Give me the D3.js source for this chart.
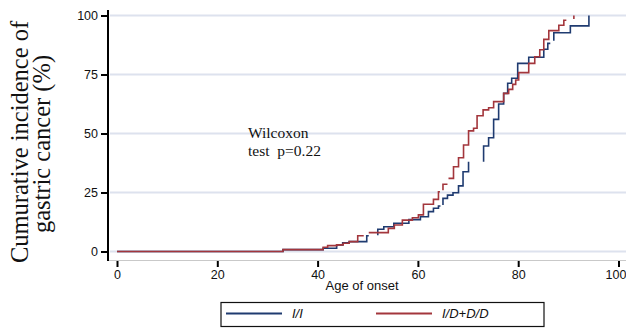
<!DOCTYPE html>
<html lang="en">
<head>
  <meta charset="UTF-8" />
  <title>Cumulative incidence of gastric cancer</title>
  <script src="https://cdn.jsdelivr.net/npm/d3@7"></script>
  <style>
    body { margin: 0; background: #fff; }
    .tick text { font-family: "Liberation Sans", Arial, sans-serif; }
  </style>
</head>
<body>
<script>
  // step points [age, cumulative %]; null = break in the drawn line
  const curveII = [
    [0, 0], [33.1, 0.8], [41.1, 1.4], [43.8, 2.8], [45.0, 3.7], [46.3, 4.2], [49.8, 6.7], [50.2, 6.7], null,
    [52.0, 6.9], [52.0, 9.4], [53.2, 10.5], [55.2, 12.0], [58.2, 13.5], [60.5, 14.7], [62.1, 16.9],
    [63.1, 18.3], [64.1, 19.3], [64.5, 19.3], null,
    [65.0, 19.7], [65.0, 22.5], [65.9, 23.9], [67.0, 24.9], [68.1, 27.8], [69.0, 33.8], [70.1, 38.0], null,
    [73.1, 38.0], [73.1, 44.7], [74.1, 48.2], [75.1, 56.0], [76.1, 62.5], [77.1, 67.0], [77.9, 71.3],
    [78.7, 73.4], [79.9, 79.7], [82.1, 82.3], [85.1, 85.7], [85.9, 88.2], [86.4, 88.2], null,
    [87.1, 89.3], [87.1, 92.7], [90.4, 95.6], [94.1, 100]
  ];
  const curveID = [
    [0, 0], [33.1, 0.8], [41.1, 1.8], [42.0, 2.5], [43.8, 2.8], [45.1, 3.5], [46.3, 4.2], [48.0, 6.7], [49.2, 6.7], null,
    [50.2, 8.0], [54.1, 9.8], [55.3, 11.2], [56.9, 13.3], [58.9, 14.3], [60.1, 15.5], [61.1, 20.0],
    [63.1, 22.1], [64.1, 25.3], [64.4, 25.3], null,
    [65.0, 26.0], [65.0, 28.5], [65.9, 28.5], null,
    [66.1, 31.0], [67.1, 35.9], [68.1, 39.7], [69.1, 45.1], [70.1, 51.1], [71.1, 52.2], [71.8, 57.5],
    [73.0, 60.0], [74.1, 60.9], [75.1, 63.5], [77.1, 67.0], [78.1, 68.7], [78.9, 70.8], [79.5, 72.7],
    [80.1, 75.8], [82.1, 79.7], [83.3, 82.5], [84.3, 85.5], [85.1, 89.9], [86.1, 93.6], [88.1, 95.9],
    [89.1, 98.0], [89.6, 98.0], null,
    [91.1, 98.5], [91.1, 100]
  ];
  const seriesNames = ["I/I", "I/D+D/D"];
  const seriesColors = ["#1f3b70", "#a3363c"];
  const xTicks = [0, 20, 40, 60, 80, 100];
  const yTicks = [0, 25, 50, 75, 100];

  const W = 626, H = 328;
  const svg = d3.select("body").append("svg").attr("width", W).attr("height", H);

  const x = d3.scaleLinear().domain([0, 100]).range([117, 618.5]);
  const y = d3.scaleLinear().domain([0, 100]).range([251.5, 15.5]);

  // grid
  svg.append("g").selectAll("line")
    .data(yTicks)
    .enter().append("line")
    .attr("x1", 110).attr("x2", W)
    .attr("y1", d => y(d)).attr("y2", d => y(d))
    .attr("stroke", "#dde2ee").attr("stroke-width", 2);

  // x baseline
  svg.append("line")
    .attr("x1", 108).attr("x2", W).attr("y1", 260.5).attr("y2", 260.5)
    .attr("stroke", "#c9c9c9").attr("stroke-width", 1);

  // axes
  const yAxis = svg.append("g")
    .attr("transform", "translate(108,0)")
    .call(d3.axisLeft(y).tickValues(yTicks).tickSize(7).tickPadding(3));
  yAxis.select(".domain").attr("d", "M0,10V261").attr("stroke-width", 2);
  yAxis.selectAll(".tick line").attr("stroke-width", 2);
  yAxis.selectAll(".tick text").attr("font-size", 12.5).attr("fill", "#111");

  const xAxis = svg.append("g")
    .attr("transform", "translate(0,261)")
    .call(d3.axisBottom(x).tickValues(xTicks).tickSize(6).tickPadding(3));
  xAxis.select(".domain").remove();
  xAxis.selectAll(".tick line").attr("stroke-width", 2);
  xAxis.selectAll(".tick text").attr("font-size", 12.5).attr("fill", "#111")
    .attr("dx", d => d === 100 ? -3 : 0);

  // curves
  const line = d3.line()
    .defined(d => d !== null)
    .x(d => x(d[0]))
    .y(d => y(d[1]))
    .curve(d3.curveStepAfter);

  [curveII, curveID].forEach((c, i) => {
    svg.append("path")
      .attr("d", line(c))
      .attr("fill", "none")
      .attr("stroke", seriesColors[i])
      .attr("stroke-width", 1.6);
  });

  // annotation
  const ann = svg.append("text")
    .attr("font-family", "'Liberation Serif', 'Times New Roman', serif")
    .attr("font-size", 15.5)
    .attr("fill", "#111");
  ann.append("tspan").attr("x", 248).attr("y", 137.5).text("Wilcoxon");
  ann.append("tspan").attr("x", 248).attr("y", 156).attr("xml:space", "preserve").text("test  p=0.22");

  // y title
  const yt = svg.append("text")
    .attr("transform", "translate(0,142) rotate(-90)")
    .attr("text-anchor", "middle")
    .attr("font-family", "'Liberation Serif', 'Times New Roman', serif")
    .attr("font-size", 24.5)
    .attr("fill", "#111");
  yt.append("tspan").attr("x", 0).attr("y", 28).text("Cumurative incidence of");
  yt.append("tspan").attr("x", -2).attr("y", 50).text("gastric cancer (%)");

  // x title
  svg.append("text")
    .attr("x", 362).attr("y", 289.5)
    .attr("text-anchor", "middle")
    .attr("font-family", "'Liberation Sans', Arial, sans-serif")
    .attr("font-size", 13)
    .attr("fill", "#111")
    .text("Age of onset");

  // legend
  svg.append("rect")
    .attr("x", 221).attr("y", 302.5).attr("width", 323).attr("height", 24)
    .attr("fill", "#fff").attr("stroke", "#111").attr("stroke-width", 1.2);
  const legX = [226, 376];
  seriesNames.forEach((n, i) => {
    svg.append("line")
      .attr("x1", legX[i]).attr("x2", legX[i] + 56)
      .attr("y1", 313.5).attr("y2", 313.5)
      .attr("stroke", seriesColors[i]).attr("stroke-width", 2);
    svg.append("text")
      .attr("x", legX[i] + 66).attr("y", 318)
      .attr("font-family", "'Liberation Sans', Arial, sans-serif")
      .attr("font-style", "italic")
      .attr("font-size", 13)
      .attr("fill", "#111")
      .text(n);
  });
</script>
</body>
</html>
